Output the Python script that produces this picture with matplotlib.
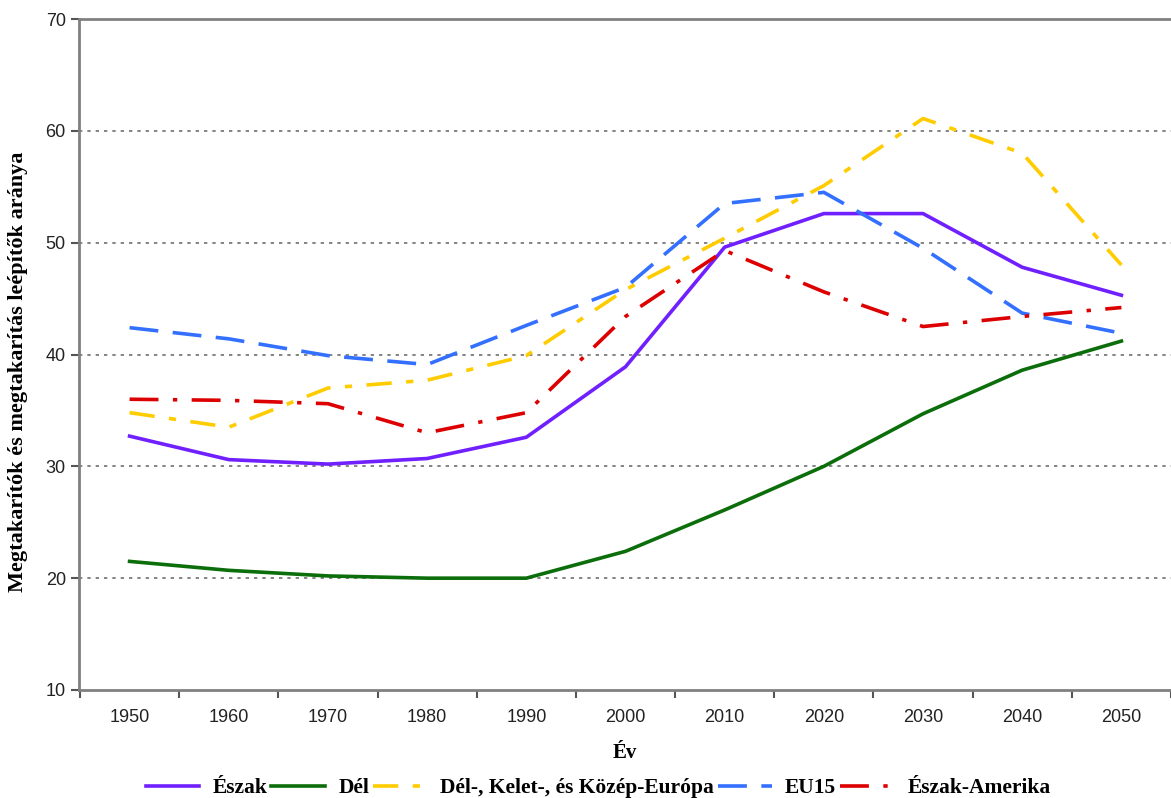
import matplotlib
matplotlib.use("Agg")
import matplotlib.pyplot as plt
import numpy as np

years = ["1950", "1960", "1970", "1980", "1990", "2000", "2010", "2020", "2030", "2040", "2050"]
eszak = [32.7, 30.6, 30.2, 30.7, 32.6, 38.9, 49.6, 52.6, 52.6, 47.8, 45.3]
del_ = [21.5, 20.7, 20.2, 20.0, 20.0, 22.4, 26.1, 30.0, 34.7, 38.6, 41.2]
dke = [34.8, 33.5, 37.0, 37.7, 39.9, 45.8, 50.4, 55.1, 61.1, 58.0, 48.0]
eu15 = [42.4, 41.4, 39.9, 39.1, 42.6, 46.0, 53.5, 54.5, 49.5, 43.7, 41.9]
eam = [36.0, 35.9, 35.6, 33.0, 34.8, 43.4, 49.3, 45.6, 42.5, 43.4, 44.2]
labels = ["Észak", "Dél", "Dél-, Kelet-, és Közép-Európa", "EU15", "Észak-Amerika"]

fig = plt.figure(figsize=(11.71, 7.98), dpi=100)
ax = fig.add_axes([79/1171, 1-690/798, 1-79/1171, (690-19)/798])
x = np.arange(len(years))

lw = 2.6
ax.plot(x, eszak, color="#7020FF", lw=lw, label=labels[0])
ax.plot(x, del_, color="#0B6E0B", lw=lw, label=labels[1])
ax.plot(x, dke, color="#FFCC00", lw=lw, dashes=(7, 4, 2, 4), label=labels[2])
ax.plot(x, eu15, color="#3370FF", lw=lw, dashes=(8, 4), label=labels[3])
ax.plot(x, eam, color="#DD0000", lw=lw, dashes=(8, 4, 1.2, 4), label=labels[4])

ax.set_ylim(10, 70)
ax.set_yticks([10, 20, 30, 40, 50, 60, 70])
ax.set_xlim(-0.51, 10.44)
ax.set_xticks(x)
ax.set_xticklabels(years)
ax.set_xticks(np.arange(-0.5, 11, 1), minor=True)
ax.tick_params(axis="x", which="major", length=0, pad=14)
ax.tick_params(axis="x", which="minor", length=6, width=1.5, color="#555555", direction="out")
ax.tick_params(axis="y", length=6, width=1.5, color="#555555", direction="out")
for lab in ax.get_xticklabels() + ax.get_yticklabels():
    lab.set_fontfamily("Liberation Sans")
    lab.set_fontsize(13)
    lab.set_color("#222222")

for yv in [20, 30, 40, 50, 60]:
    ax.axhline(yv, color="#707070", lw=1.2, ls=(0, (2, 3)), zorder=0)

for s in ["left", "bottom", "top"]:
    ax.spines[s].set_color("#808080")
    ax.spines[s].set_linewidth(2)
ax.spines["right"].set_visible(False)

ax.set_xlabel("Év", fontfamily="Liberation Serif", fontweight="bold", fontsize=15, labelpad=12)
fig.text(18/1171, 1-372/798, "Megtakarítók és megtakarítás leépítők aránya", rotation=90,
         ha="center", va="center", fontfamily="Liberation Serif", fontweight="bold", fontsize=16)

handles, labs = ax.get_legend_handles_labels()
leg = fig.legend(handles, labs, loc="center", bbox_to_anchor=(598/1171, 1-788/798), ncol=5,
                 frameon=False, handlelength=2.5, handletextpad=0.6, columnspacing=0.2,
                 borderpad=0, borderaxespad=0,
                 prop={"family": "Liberation Serif", "weight": "bold", "size": 15.5})

fig.savefig("out.png", dpi=100)
